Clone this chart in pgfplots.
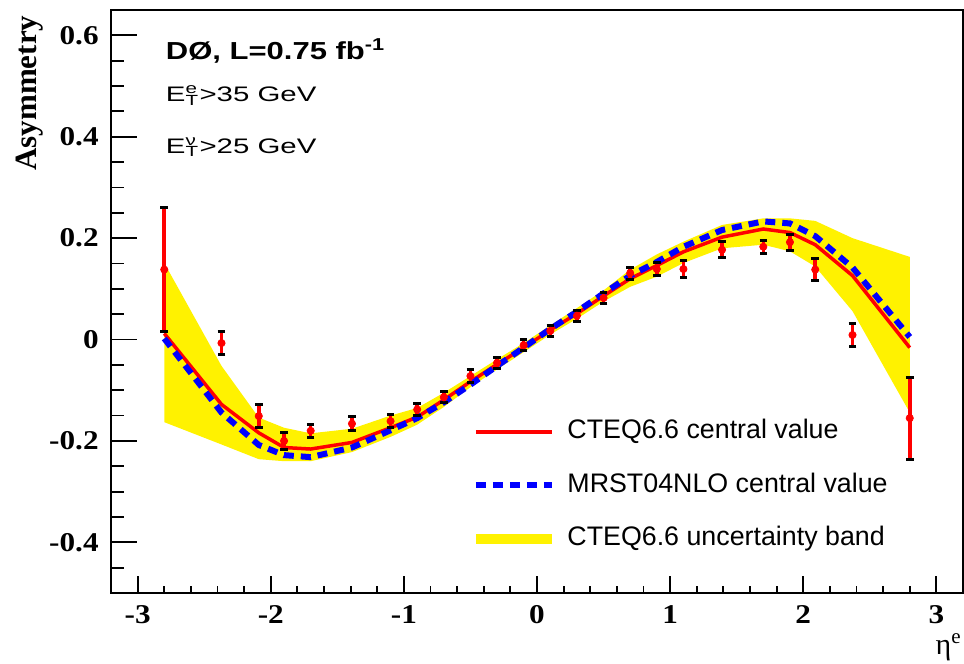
\documentclass[border=0pt]{standalone}
\usepackage{fontspec}
\setmainfont{Liberation Sans}
\newfontfamily\tms{Liberation Serif}
\usepackage{graphicx}
\usepackage{pgfplots}
\usepgfplotslibrary{fillbetween}
\pgfplotsset{compat=1.18}

% ROOT-like bold serif tick labels, a bit flattened
\newcommand{\tl}[1]{\scalebox{1}[0.87]{\fontsize{15.6bp}{15.6bp}\tms\bfseries #1}}

% measured asymmetry
\pgfplotstableread{
x      y       e
-2.80  0.138  0.122
-2.37 -0.007  0.023
-2.09 -0.151  0.022
-1.90 -0.200  0.016
-1.70 -0.180  0.013
-1.39 -0.166  0.014
-1.10 -0.161  0.013
-0.90 -0.138  0.012
-0.70 -0.114  0.011
-0.50 -0.072  0.012
-0.30 -0.046  0.011
-0.10 -0.011  0.011
 0.10  0.017  0.011
 0.30  0.047  0.011
 0.50  0.082  0.011
 0.70  0.131  0.012
 0.90  0.139  0.013
 1.10  0.139  0.016
 1.39  0.177  0.016
 1.70  0.183  0.013
 1.90  0.192  0.016
 2.09  0.138  0.021
 2.37  0.009  0.023
 2.80 -0.155  0.081
}\dzero

% predictions: CTEQ6.6, MRST04NLO, CTEQ6.6 band
\pgfplotstableread{
x      cteq    mrst    up      lo
-2.80  0.012  0.002  0.151 -0.163
-2.37 -0.128 -0.144 -0.052 -0.207
-2.09 -0.184 -0.208 -0.154 -0.236
-1.90 -0.213 -0.228 -0.174 -0.240
-1.70 -0.216 -0.232 -0.185 -0.240
-1.39 -0.203 -0.213 -0.176 -0.222
-1.10 -0.174 -0.179 -0.150 -0.192
-0.90 -0.153 -0.155 -0.135 -0.168
-0.70 -0.119 -0.124 -0.105 -0.133
-0.50 -0.083 -0.089 -0.072 -0.094
-0.30 -0.049 -0.052 -0.039 -0.059
-0.10 -0.016 -0.016 -0.007 -0.025
 0.10  0.019  0.021  0.028  0.010
 0.30  0.051  0.055  0.062  0.041
 0.50  0.086  0.091  0.097  0.075
 0.70  0.120  0.126  0.138  0.104
 0.90  0.146  0.153  0.168  0.124
 1.10  0.173  0.183  0.193  0.151
 1.39  0.202  0.216  0.226  0.180
 1.70  0.218  0.233  0.239  0.187
 1.90  0.211  0.229  0.239  0.174
 2.09  0.187  0.204  0.234  0.144
 2.37  0.126  0.142  0.200  0.056
 2.80 -0.016  0.005  0.163 -0.144
}\theory

\begin{document}
\begin{tikzpicture}
\pgfplotsset{
  frame/.style={
    scale only axis, width=426bp, height=291.5bp,
    xmin=-3.2, xmax=3.2, ymin=-0.5, ymax=0.65,
    axis line style={line width=1bp},
    tick align=inside, xtick pos=lower, ytick pos=left,
    tick style={line width=0.9bp, black},
  },
}
\begin{axis}[frame, name=ax,
  xtick=\empty,
  ytick={-0.4,-0.2,0,0.2,0.4,0.6},
  yticklabels={\tl{-0.4},\tl{-0.2},\tl{0},\tl{0.2},\tl{0.4},\tl{0.6}},
  minor ytick={-0.5,-0.45,...,0.65},
  major tick length=12.8bp, minor tick length=6.5bp,
  yticklabel style={inner sep=0pt, xshift=-6bp},
  ylabel={\fontsize{15.5bp}{15.5bp}\tms\bfseries Asymmetry},
  ylabel style={at={(axis description cs:-0.087,0.991)}, anchor=base east, inner sep=0pt},
  xlabel={\fontsize{15bp}{15bp}\tms η\textsuperscript{e}},
  xlabel style={at={(axis description cs:0.999,0)}, anchor=base east, inner sep=0pt, yshift=-30.5bp},
  legend style={at={(axis cs:-0.497,-0.156)}, anchor=north west,
    draw=none, fill=none, inner sep=0pt, outer sep=0pt,
    font=\fontsize{13.4bp}{16bp}\selectfont,
    nodes={inner sep=0pt, text height=10bp, text depth=3bp},
    row sep=13.75bp, column sep=5.3bp},
  legend cell align=left,
  legend image code/.code={\draw[#1] (0bp,0bp) -- (38bp,0bp);},
]
  \addplot[name path=up, draw=none, forget plot] table[x=x, y=up] {\theory};
  \addplot[name path=lo, draw=none, forget plot] table[x=x, y=lo] {\theory};
  \addplot[fill=yellow, draw=none, forget plot] fill between[of=up and lo];

  \addplot[red, line width=1.75bp, forget plot] table[x=x, y=cteq] {\theory};
  \addplot[blue, line width=3bp, dash pattern=on 5bp off 3.5bp, forget plot] table[x=x, y=mrst] {\theory};

  \addplot[red, only marks, mark=*, mark size=1.8bp, forget plot,
    error bars/.cd, y dir=both, y explicit,
    error bar style={red, line width=1.8bp},
    error mark options={rotate=90, black, line width=1.5bp, mark size=1.9bp}]
    table[x=x, y=y, y error=e] {\dzero};

  \addlegendimage{red, line width=2bp}
  \addlegendentry{CTEQ6.6 central value}
  \addlegendimage{blue, line width=3bp, dash pattern=on 5bp off 3.5bp}
  \addlegendentry{MRST04NLO central value}
  \addlegendimage{yellow, line width=5bp}
  \addlegendentry{CTEQ6.6 uncertainty band}

  \node[anchor=base west, inner sep=0pt] at (axis cs:-2.79,0.5526)
    {\scalebox{1.26}[1]{\fontsize{12.3bp}{14bp}\selectfont\bfseries DØ, L=0.75 fb\textsuperscript{-1}}};
  \node[anchor=base west, inner sep=0pt] at (axis cs:-2.79,0.469)
    {\scalebox{1.4}[1]{\fontsize{10.5bp}{12bp}\selectfont E\rlap{\textsuperscript{e}}\textsubscript{T}>35 GeV}};
  \node[anchor=base west, inner sep=0pt] at (axis cs:-2.79,0.3675)
    {\scalebox{1.4}[1]{\fontsize{10.5bp}{12bp}\selectfont E\rlap{\textsuperscript{ν}}\textsubscript{T}>25 GeV}};
\end{axis}
\begin{axis}[frame,
  ytick=\empty,
  xtick={-3,-2,-1,0,1,2,3},
  xticklabels={\tl{-3},\tl{-2},\tl{-1},\tl{0},\tl{1},\tl{2},\tl{3}},
  minor xtick={-3.2,-3.0,...,3.2},
  major tick length=8.3bp, minor tick length=3.7bp,
  xticklabel style={inner sep=0pt, yshift=-6bp},
]
\end{axis}
\path (ax.south west) ++(-55.5bp,-35bp) (ax.north east) ++(0.5bp,5bp);
\end{tikzpicture}
\end{document}
